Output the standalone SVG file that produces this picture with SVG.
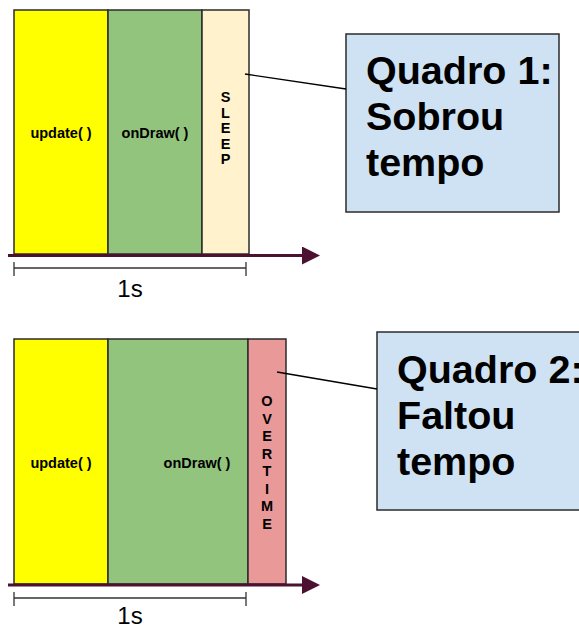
<svg xmlns="http://www.w3.org/2000/svg" width="579" height="627" viewBox="0 0 579 627">
<style>
.blk{stroke:#2b2b2b;stroke-width:1.5}
.lbl{font-family:"Liberation Sans",Arial,sans-serif;font-weight:bold;font-size:14.5px;fill:#000;text-anchor:middle}
.big{font-family:"Liberation Sans",Arial,sans-serif;font-weight:bold;font-size:39.5px;fill:#000}
.sec{font-family:"Liberation Sans",Arial,sans-serif;font-size:24px;fill:#000;text-anchor:middle}
.axis{stroke:#4c1130;stroke-width:3}
.bar{stroke:#333;stroke-width:1.3;fill:none}
.lead{stroke:#000;stroke-width:1.3;fill:none}
</style>
<defs>
<marker id="ah" markerWidth="6" markerHeight="6" refX="0" refY="3" orient="auto" markerUnits="strokeWidth">
<path d="M0,0 L6,3 L0,6 Z" fill="#4c1130"/>
</marker>
</defs>
<g id="frame1-update"><rect class="blk" x="14" y="10" width="94" height="244" fill="#ffff00"/><text class="lbl" x="61" y="138">update( )</text></g>
<g id="frame1-ondraw"><rect class="blk" x="108" y="10" width="94" height="244" fill="#93c47d"/><text class="lbl" x="155" y="138">onDraw( )</text></g>
<g id="frame1-sleep"><rect class="blk" x="202" y="10" width="47" height="244" fill="#fff2cc"/>
<text class="lbl" x="225.5" y="102">S</text><text class="lbl" x="225.5" y="117.5">L</text><text class="lbl" x="225.5" y="133">E</text><text class="lbl" x="225.5" y="148.5">E</text><text class="lbl" x="225.5" y="164">P</text></g>
<g id="frame1-label"><rect class="blk" x="346" y="34" width="213" height="178" fill="#cfe2f3"/>
<text class="big" x="366" y="84">Quadro 1:</text><text class="big" x="366" y="130">Sobrou</text><text class="big" x="366" y="176">tempo</text></g>
<g id="frame1-scale"><path class="bar" d="M14,262 V276 M14,268 H246 M246,262 V276"/><text class="sec" x="130" y="297">1s</text></g>

<g id="frame2-update"><rect class="blk" x="14" y="339" width="94" height="245" fill="#ffff00"/><text class="lbl" x="61" y="468">update( )</text></g>
<g id="frame2-ondraw"><rect class="blk" x="108" y="339" width="140" height="245" fill="#93c47d"/><text class="lbl" x="197" y="468">onDraw( )</text></g>
<g id="frame2-overtime"><rect class="blk" x="248" y="339" width="38" height="245" fill="#ea9999"/>
<text class="lbl" x="267" y="406">O</text><text class="lbl" x="267" y="423.5">V</text><text class="lbl" x="267" y="441">E</text><text class="lbl" x="267" y="458.5">R</text><text class="lbl" x="267" y="476">T</text><text class="lbl" x="267" y="493.5">I</text><text class="lbl" x="267" y="511">M</text><text class="lbl" x="267" y="528.5">E</text></g>
<g id="frame2-label"><rect class="blk" x="377" y="332" width="220" height="178" fill="#cfe2f3"/>
<text class="big" x="397" y="383">Quadro 2:</text><text class="big" x="397" y="429">Faltou</text><text class="big" x="397" y="475">tempo</text></g>
<g id="frame2-scale"><path class="bar" d="M14,592 V606 M14,598 H246 M246,592 V606"/><text class="sec" x="130" y="624">1s</text></g>

<g id="connectors">
<line class="axis" x1="8" y1="255.5" x2="302" y2="255.5" marker-end="url(#ah)"/>
<line class="axis" x1="8" y1="585" x2="302" y2="585" marker-end="url(#ah)"/>
<line class="lead" x1="245" y1="74" x2="346" y2="89"/>
<line class="lead" x1="277" y1="372" x2="377" y2="389"/>
</g>
</svg>
